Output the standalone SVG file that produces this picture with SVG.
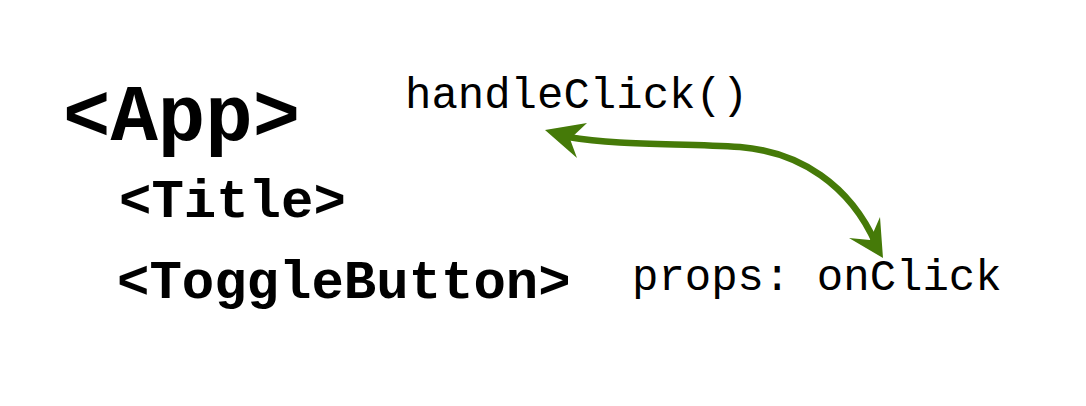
<svg xmlns="http://www.w3.org/2000/svg" width="1086" height="406" viewBox="0 0 1086 406">
<style>
.b{font-family:"Liberation Mono","Courier New",monospace;font-weight:bold;fill:#000}
.m{font-family:"Liberation Mono","Courier New",monospace;fill:#000;font-size:44px}
.c{fill:none;stroke:#457a08;stroke-width:6.5;stroke-linecap:round}
.h{fill:#457a08}
</style>
<rect width="1086" height="406" fill="#fff"/>
<g id="app"><text class="b" x="63" y="140" font-size="79">&lt;App&gt;</text></g>
<g id="title"><text class="b" x="119" y="217" font-size="54">&lt;Title&gt;</text></g>
<g id="toggle"><text class="b" x="117" y="298" font-size="54">&lt;ToggleButton&gt;</text></g>
<g id="handle"><text class="m" x="405" y="108">handleClick()</text></g>
<g id="props"><text class="m" x="632" y="290">props: onClick</text></g>
<g id="connectors">
<path class="c" d="M 568 137 C 620 146, 680 143, 740 147 C 800 152, 850 185, 876 244"/>
<polygon class="h" points="545,130 587,123 570,139 577,158"/>
<polygon class="h" points="883,258 849,238 870,240 880,217"/>
</g>
</svg>
